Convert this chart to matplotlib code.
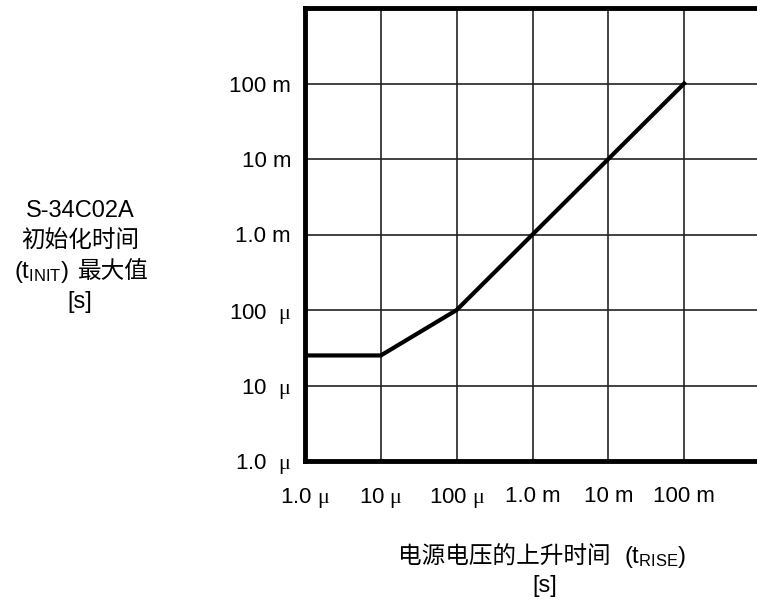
import matplotlib
matplotlib.use('Agg')
import matplotlib.pyplot as plt

# curve: max init time vs supply rise time
rise_time = [1e-6, 1e-5, 1e-4, 1e-1]
init_time = [2.5e-5, 2.5e-5, 1e-4, 1e-1]

xticks = [1e-6, 1e-5, 1e-4, 1e-3, 1e-2, 1e-1]
xlabels = ['1.0 $\\mathrm{μ}$', '10 $\\mathrm{μ}$', '100 $\\mathrm{μ}$', '1.0 m', '10 m', '100 m']
yticks = [1e-6, 1e-5, 1e-4, 1e-3, 1e-2, 1e-1]
ylabels = ['1.0  $\\mathrm{μ}$', '10  $\\mathrm{μ}$', '100  $\\mathrm{μ}$', '1.0 m', '10 m', '100 m']

plt.rcParams['font.family'] = ['Liberation Sans', 'Noto Sans CJK SC']
plt.rcParams['mathtext.fontset'] = 'custom'
plt.rcParams['mathtext.rm'] = 'Liberation Serif'
plt.rcParams['mathtext.default'] = 'regular'

W, H = 757, 607
fig = plt.figure(figsize=(W / 100, H / 100), dpi=100)
ax = fig.add_axes([305 / W, (H - 461) / H, (760 - 305) / W, (461 - 8) / H])

ax.plot(rise_time, init_time, color='black', lw=3, solid_joinstyle='miter', zorder=3)
ax.set_xscale('log')
ax.set_yscale('log')
ax.set_xlim(1e-6, 1e0)
ax.set_ylim(1e-6, 1e0)

ax.set_xticks(xticks)
ax.set_xticklabels(xlabels)
ax.set_yticks(yticks)
ax.set_yticklabels(ylabels)
ax.minorticks_off()
ax.tick_params(length=0, labelsize=16)
ax.tick_params(axis='x', pad=18)
ax.tick_params(axis='y', pad=10)

# grid incl. top decade line
for v in [1e-5, 1e-4, 1e-3, 1e-2, 1e-1, 1e0]:
    ax.axvline(v, color='#222222', lw=1.2, zorder=1)
    ax.axhline(v, color='#222222', lw=1.2, zorder=1)

for s in ax.spines.values():
    s.set_linewidth(3.5)
ax.spines['right'].set_visible(False)

# y axis title
cjk = ['Noto Sans CJK SC']
fig.text(80 / W, 1 - 211 / H, 'S-34C02A', ha='center', va='center', fontsize=17)
fig.text(80 / W, 1 - 241 / H, '初始化时间', ha='center', va='center', fontsize=17, family=cjk)
fig.text(69 / W, 1 - 272 / H, '(t$_{INIT}$)', ha='right', va='center', fontsize=17)
fig.text(78 / W, 1 - 272 / H, '最大值', ha='left', va='center', fontsize=17, family=cjk)
fig.text(80 / W, 1 - 302 / H, '[s]', ha='center', va='center', fontsize=17)

# x axis title
fig.text(611 / W, 1 - 557 / H, '电源电压的上升时间', ha='right', va='center', fontsize=17, family=cjk)
fig.text(624 / W, 1 - 557 / H, '(t$_{RISE}$)', ha='left', va='center', fontsize=17)
fig.text(545 / W, 1 - 586 / H, '[s]', ha='center', va='center', fontsize=17)

fig.savefig('out.png', dpi=100)
